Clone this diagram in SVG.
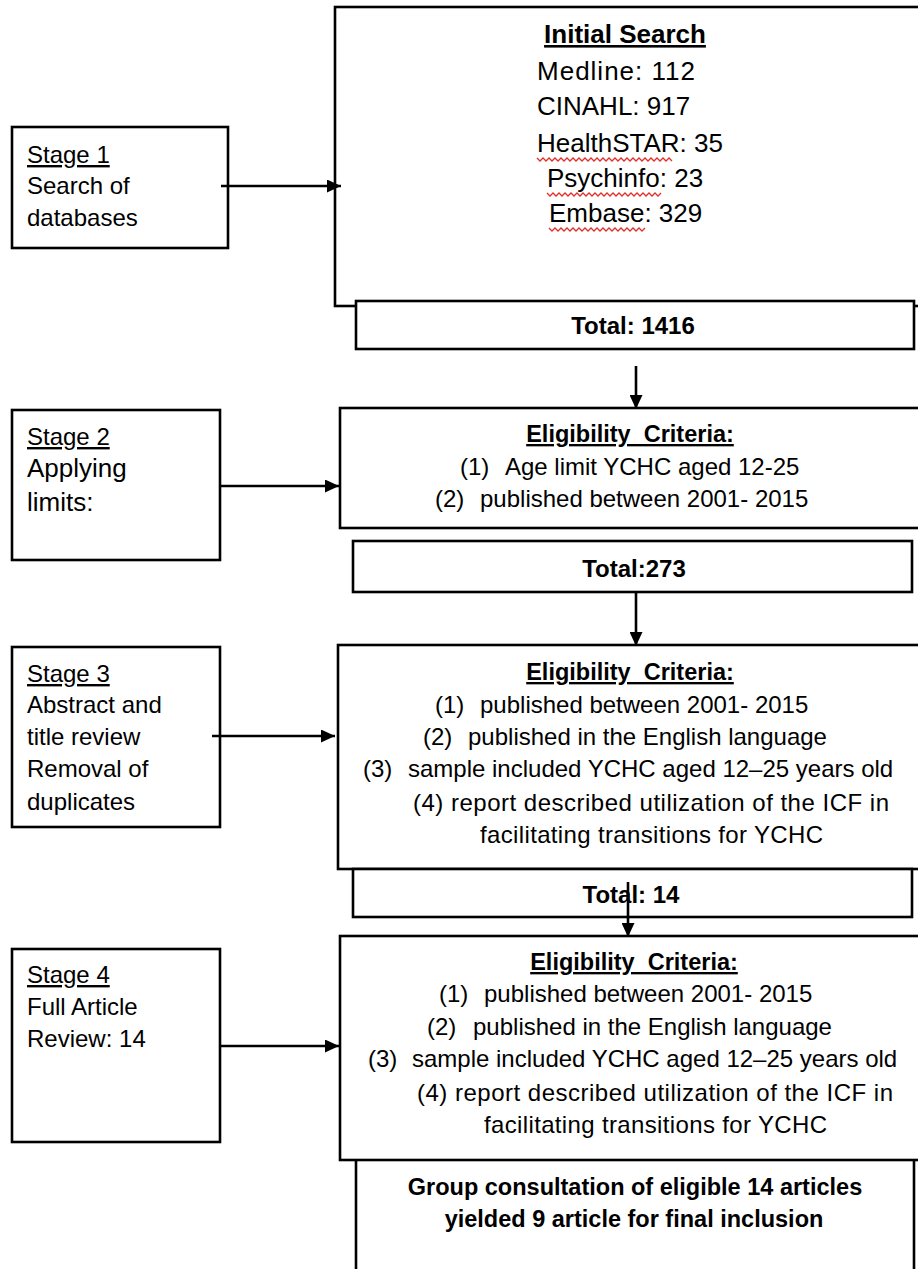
<svg xmlns="http://www.w3.org/2000/svg" width="918" height="1269" viewBox="0 0 918 1269">
  <style>
    .box { fill: #fff; stroke: #000; stroke-width: 2.6; }
    .edge { fill: none; stroke: #000; stroke-width: 2.6; }
    .t { font-family: "Liberation Sans", Arial, sans-serif; fill: #000; }
    .stage { font-size: 24px; }
    .crit { font-size: 24px; }
    .big { font-size: 26px; }
    .b { font-weight: bold; }
    .u { text-decoration: underline; }
    .pre { white-space: pre; }
    .squiggle { fill: none; stroke: #e0302a; stroke-width: 1.3; }
  </style>
  <defs>
    <marker id="arrow" markerUnits="userSpaceOnUse" markerWidth="15" markerHeight="13" refX="14" refY="6.5" orient="auto">
      <path d="M0,0 L14,6.5 L0,13 Z" fill="#000"/>
    </marker>
  </defs>

  <rect width="918" height="1269" fill="#fff"/>

  <!-- Stage 1 -->
  <g id="stage1">
    <rect class="box" x="12" y="127" width="216" height="121"/>
    <text class="t stage u" x="27" y="163">Stage 1</text>
    <text class="t stage" x="27" y="194">Search of</text>
    <text class="t stage" x="27" y="226">databases</text>
  </g>

  <!-- Initial search box -->
  <g id="initial-search">
    <rect class="box" x="335" y="7" width="600" height="299"/>
    <text class="t big b u" x="625" y="43" text-anchor="middle">Initial Search</text>
    <text class="t big" x="537" y="80" textLength="158" lengthAdjust="spacing">Medline: 112</text>
    <text class="t big" x="537" y="115">CINAHL: 917</text>
    <text class="t big" x="537" y="152">HealthSTAR: 35</text>
    <text class="t big" x="547" y="187">Psychinfo: 23</text>
    <text class="t big" x="549" y="222">Embase: 329</text>
    <path class="squiggle" d="M537,158 l3,3 l3,-3 l3,3 l3,-3 l3,3 l3,-3 l3,3 l3,-3 l3,3 l3,-3 l3,3 l3,-3 l3,3 l3,-3 l3,3 l3,-3 l3,3 l3,-3 l3,3 l3,-3 l3,3 l3,-3 l3,3 l3,-3 l3,3 l3,-3 l3,3 l3,-3 l3,3 l3,-3 l3,3 l3,-3 l3,3 l3,-3 l3,3 l3,-3 l3,3 l3,-3 l3,3 l3,-3 l3,3 l3,-3 l3,3 l3,-3 l3,3"/>
    <path class="squiggle" d="M547,193 l3,3 l3,-3 l3,3 l3,-3 l3,3 l3,-3 l3,3 l3,-3 l3,3 l3,-3 l3,3 l3,-3 l3,3 l3,-3 l3,3 l3,-3 l3,3 l3,-3 l3,3 l3,-3 l3,3 l3,-3 l3,3 l3,-3 l3,3 l3,-3 l3,3 l3,-3 l3,3 l3,-3 l3,3 l3,-3 l3,3 l3,-3 l3,3 l3,-3 l3,3 l3,-3"/>
    <path class="squiggle" d="M549,228 l3,3 l3,-3 l3,3 l3,-3 l3,3 l3,-3 l3,3 l3,-3 l3,3 l3,-3 l3,3 l3,-3 l3,3 l3,-3 l3,3 l3,-3 l3,3 l3,-3 l3,3 l3,-3 l3,3 l3,-3 l3,3 l3,-3 l3,3 l3,-3 l3,3 l3,-3 l3,3 l3,-3 l3,3 l3,-3"/>
  </g>

  <g id="total-1416">
    <rect class="box" x="356" y="301" width="558" height="48"/>
    <text class="t b" font-size="24" x="633" y="334" text-anchor="middle">Total: 1416</text>
  </g>

  <!-- Stage 2 -->
  <g id="stage2">
    <rect class="box" x="12" y="410" width="208" height="150"/>
    <text class="t stage u" x="27" y="445">Stage 2</text>
    <text class="t" font-size="26" x="27" y="477">Applying</text>
    <text class="t" font-size="26" x="27" y="511">limits:</text>
  </g>

  <g id="criteria-2">
    <rect class="box" x="340" y="408" width="600" height="120"/>
    <text class="t b u pre" font-size="23.5" x="630" y="442" text-anchor="middle">Eligibility  Criteria:</text>
    <text class="t crit" x="460" y="475">(1)</text>
    <text class="t crit" x="505" y="475">Age limit YCHC aged 12-25</text>
    <text class="t crit" x="435" y="507">(2)</text>
    <text class="t crit" x="480" y="507">published between 2001- 2015</text>
  </g>

  <g id="total-273">
    <rect class="box" x="353" y="541" width="559" height="51"/>
    <text class="t b" font-size="24" x="634" y="577" text-anchor="middle">Total:273</text>
  </g>

  <!-- Stage 3 -->
  <g id="stage3">
    <rect class="box" x="12" y="647" width="208" height="180"/>
    <text class="t stage u" x="27" y="682">Stage 3</text>
    <text class="t stage" x="27" y="713">Abstract and</text>
    <text class="t stage" x="27" y="745">title review</text>
    <text class="t stage" x="27" y="777">Removal of</text>
    <text class="t stage" x="27" y="810">duplicates</text>
  </g>

  <g id="criteria-3">
    <rect class="box" x="338" y="645" width="600" height="224"/>
    <text class="t b u pre" font-size="23.5" x="630" y="680" text-anchor="middle">Eligibility  Criteria:</text>
    <text class="t crit" x="435" y="713">(1)</text>
    <text class="t crit" x="480" y="713">published between 2001- 2015</text>
    <text class="t crit" x="423" y="745">(2)</text>
    <text class="t crit" x="468" y="745">published in the English language</text>
    <text class="t crit" x="363" y="777">(3)</text>
    <text class="t crit" x="408" y="777">sample included YCHC aged 12–25 years old</text>
    <text class="t crit" x="413" y="811" textLength="476" lengthAdjust="spacing">(4) report described utilization of the ICF in</text>
    <text class="t crit" x="480" y="843" textLength="343" lengthAdjust="spacing">facilitating transitions for YCHC</text>
  </g>

  <g id="total-14">
    <rect class="box" x="353" y="869" width="559" height="48"/>
    <text class="t b" font-size="24" x="631" y="903" text-anchor="middle">Total: 14</text>
  </g>

  <!-- Stage 4 -->
  <g id="stage4">
    <rect class="box" x="12" y="949" width="208" height="193"/>
    <text class="t stage u" x="27" y="983">Stage 4</text>
    <text class="t stage" x="27" y="1015">Full Article</text>
    <text class="t stage" x="27" y="1047">Review: 14</text>
  </g>

  <g id="criteria-4">
    <rect class="box" x="340" y="936" width="600" height="224"/>
    <text class="t b u pre" font-size="23.5" x="634" y="970" text-anchor="middle">Eligibility  Criteria:</text>
    <text class="t crit" x="439" y="1002">(1)</text>
    <text class="t crit" x="484" y="1002">published between 2001- 2015</text>
    <text class="t crit" x="427" y="1035">(2)</text>
    <text class="t crit" x="473" y="1035">published in the English language</text>
    <text class="t crit" x="368" y="1067">(3)</text>
    <text class="t crit" x="412" y="1067">sample included YCHC aged 12–25 years old</text>
    <text class="t crit" x="417" y="1101" textLength="476" lengthAdjust="spacing">(4) report described utilization of the ICF in</text>
    <text class="t crit" x="484" y="1133" textLength="343" lengthAdjust="spacing">facilitating transitions for YCHC</text>
  </g>

  <g id="final-inclusion">
    <path class="edge" d="M356,1160 V1275 M914,1160 V1275"/>
    <text class="t b" font-size="23.5" x="635" y="1195" text-anchor="middle">Group consultation of eligible 14 articles</text>
    <text class="t b" font-size="23.5" x="634" y="1227" text-anchor="middle">yielded 9 article for final inclusion</text>
  </g>

  <!-- Connectors -->
  <g id="connectors" class="edge">
    <line x1="221" y1="186" x2="341" y2="186" marker-end="url(#arrow)"/>
    <line x1="220" y1="486" x2="339" y2="486" marker-end="url(#arrow)"/>
    <line x1="212" y1="736" x2="335" y2="736" marker-end="url(#arrow)"/>
    <line x1="220" y1="1046" x2="339" y2="1046" marker-end="url(#arrow)"/>
    <line x1="636" y1="366" x2="636" y2="409" marker-end="url(#arrow)"/>
    <line x1="636" y1="592" x2="636" y2="646" marker-end="url(#arrow)"/>
    <line x1="628" y1="882" x2="628" y2="937" marker-end="url(#arrow)"/>
  </g>
</svg>
